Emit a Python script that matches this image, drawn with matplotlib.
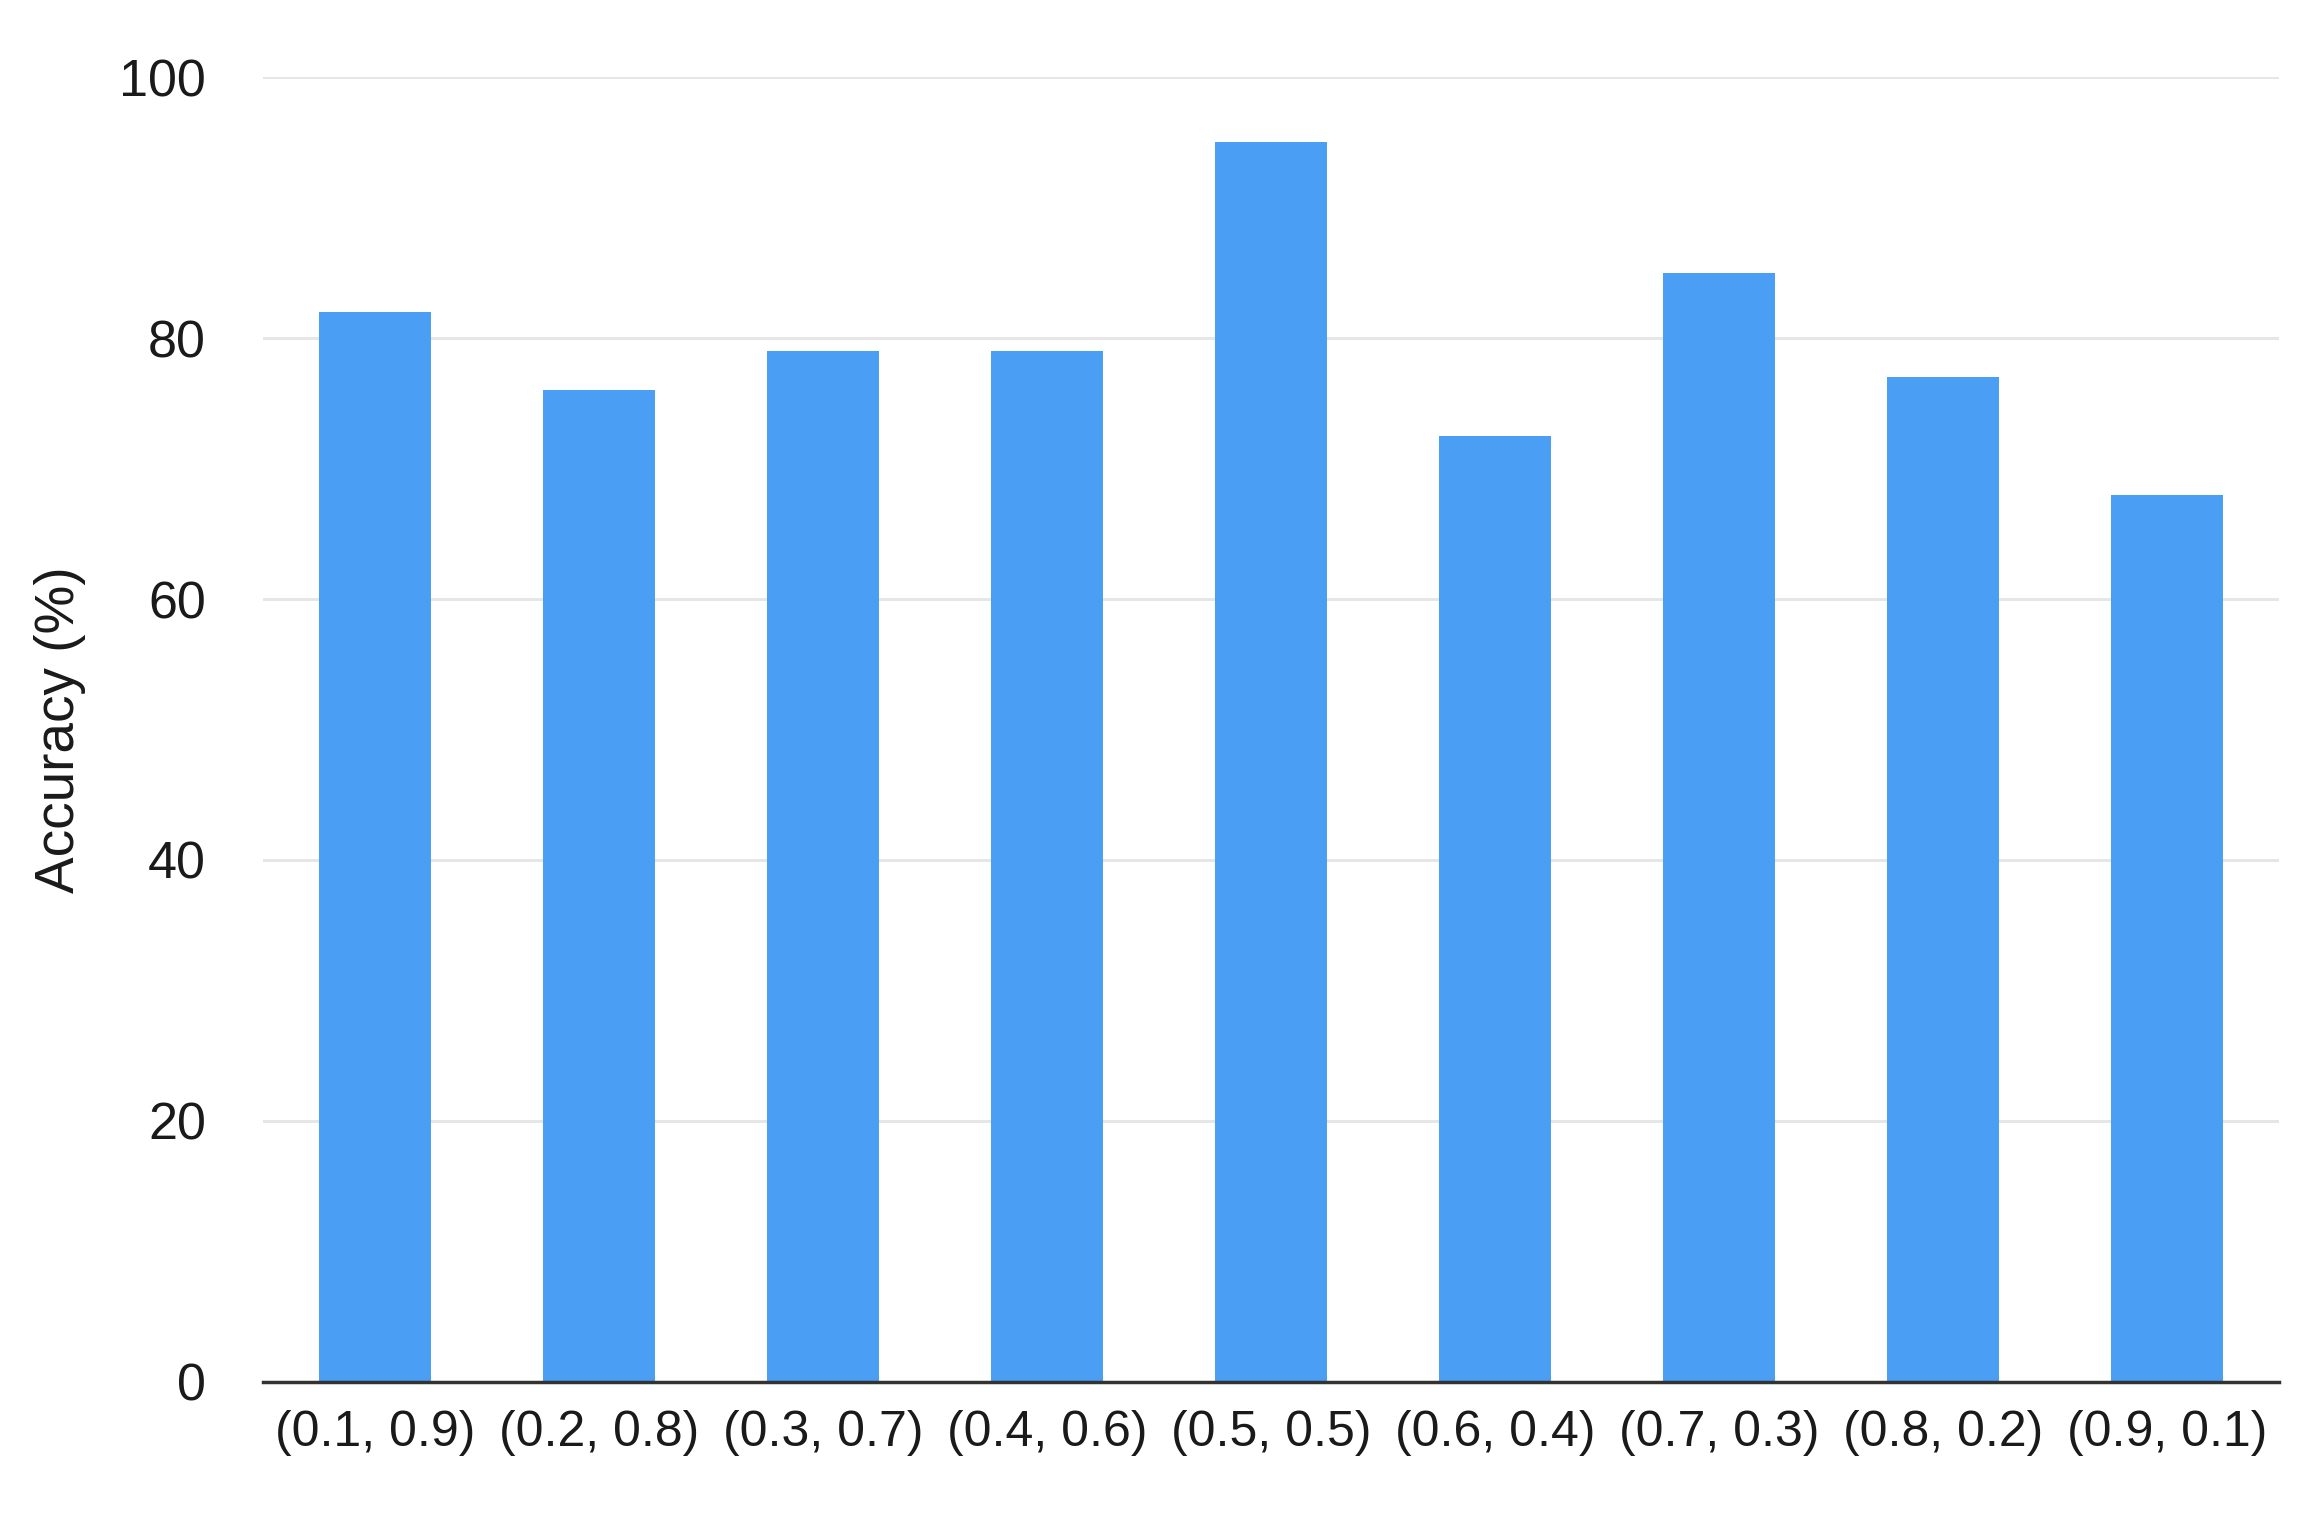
import matplotlib
matplotlib.use('agg')
import matplotlib.pyplot as plt

categories = ["(0.1, 0.9)", "(0.2, 0.8)", "(0.3, 0.7)", "(0.4, 0.6)", "(0.5, 0.5)",
              "(0.6, 0.4)", "(0.7, 0.3)", "(0.8, 0.2)", "(0.9, 0.1)"]
accuracy = [82, 76, 79, 79, 95, 72.5, 85, 77, 68]
yticks = [0, 20, 40, 60, 80, 100]

bar_colour = '#4a9ff5'
text_colour = '#1a1a1a'


def main():
    plt.rcParams['font.family'] = ['Liberation Sans', 'DejaVu Sans']

    fig = plt.figure(figsize=(23.13, 15.19), dpi=100)
    ax = fig.add_axes([0.1137, 0.0902, 0.8716, 0.8591])

    xvals = list(range(len(categories)))
    ax.bar(xvals, accuracy, width=0.5, color=bar_colour, zorder=2)

    ax.set_xlim(-0.5, len(categories) - 0.5)
    ax.set_ylim(0, 100)
    ax.set_yticks(yticks)
    ax.set_xticks(xvals)
    ax.set_xticklabels(categories)

    ax.yaxis.grid(True, color='#e6e6e6', linewidth=2.2, zorder=0)
    ax.set_axisbelow(True)
    for side in ['top', 'right', 'left']:
        ax.spines[side].set_visible(False)
    ax.spines['bottom'].set_color('#333333')
    ax.spines['bottom'].set_linewidth(2.5)
    ax.spines['bottom'].set_zorder(3)

    ax.tick_params(axis='y', length=0, pad=41, labelsize=37.5, labelcolor=text_colour)
    ax.tick_params(axis='x', length=0, pad=20, labelsize=36, labelcolor=text_colour)

    ax.set_ylabel('Accuracy (%)', fontsize=39.5, color=text_colour)
    ax.yaxis.set_label_coords(-0.088, 0.5)

    fig.savefig('out.png', dpi=100)


if __name__ == '__main__':
    main()
